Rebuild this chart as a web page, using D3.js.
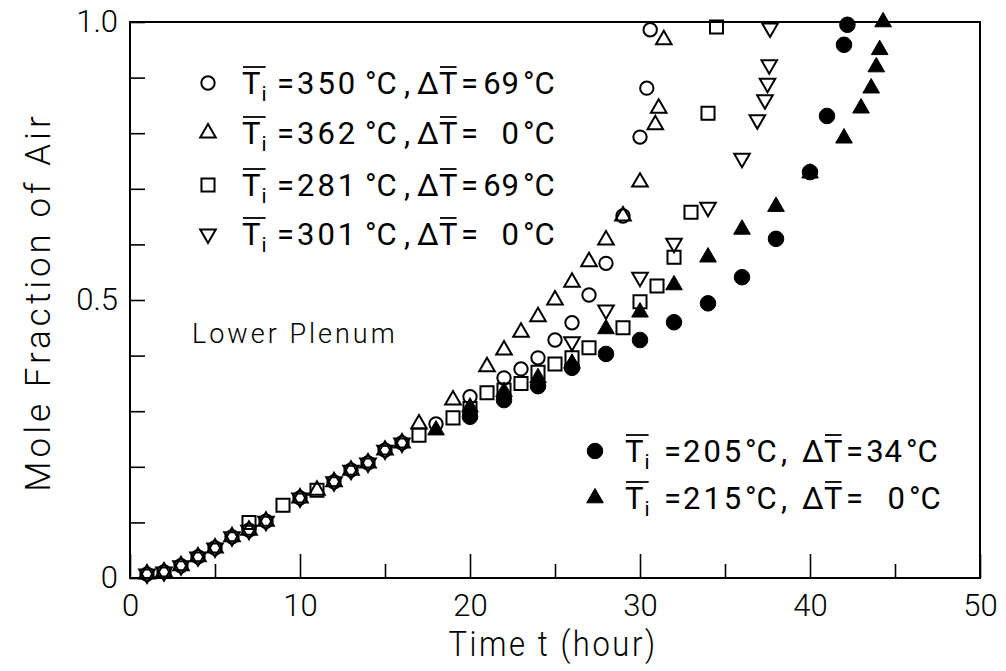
<!DOCTYPE html>
<html>
<head>
<meta charset="utf-8">
<script src="https://cdn.jsdelivr.net/npm/d3@7"></script>
<style>
  html, body { margin: 0; padding: 0; background: #fff; }
  svg { display: block; }
</style>
</head>
<body>
<script>
// ---- Data: mole fraction of air in the lower plenum vs. time (hours) ----
// Open circles: Ti = 350 °C, ΔT = 69 °C
const circleTime = [1,2,3,4,5,6,7,8,10,12,13,14,15,16,18,20,22,23,24,25,26,27,28,29,30,30.4,30.6];
const circleFrac = [0.007,0.011,0.022,0.038,0.054,0.074,0.086,0.102,0.144,0.173,0.194,0.207,0.23,0.243,0.277,0.326,0.36,0.376,0.396,0.428,0.459,0.509,0.566,0.651,0.793,0.881,0.986];

// Open up-triangles: Ti = 362 °C, ΔT = 0 °C
const triUpTime = [1,2,3,4,5,6,7,8,10,11,12,13,14,15,16,17,19,21,22,23,24,25,26,27,28,29,30,30.9,31.1,31.4];
const triUpFrac = [0.007,0.011,0.022,0.038,0.054,0.074,0.086,0.102,0.144,0.158,0.173,0.194,0.207,0.23,0.243,0.277,0.32,0.38,0.41,0.442,0.47,0.5,0.532,0.569,0.608,0.651,0.712,0.815,0.845,0.968];

// Open squares: Ti = 281 °C, ΔT = 69 °C
const squareTime = [7,9,11,17,19,20,21,22,23,24,25,26,27,29,30,31,32,33,34,34.5];
const squareFrac = [0.1,0.131,0.158,0.257,0.288,0.305,0.333,0.338,0.35,0.37,0.385,0.396,0.414,0.45,0.497,0.525,0.577,0.658,0.836,0.991];

// Open down-triangles: Ti = 301 °C, ΔT = 0 °C
const triDownTime = [1,2,3,4,5,6,7,8,10,12,13,14,15,16,26,28,30,32,34,36,36.9,37.35,37.5,37.6,37.65];
const triDownFrac = [0.007,0.011,0.022,0.038,0.054,0.074,0.086,0.102,0.144,0.173,0.194,0.207,0.23,0.243,0.425,0.482,0.541,0.602,0.667,0.755,0.824,0.86,0.89,0.923,0.989];

// Filled circles: Ti = 205 °C, ΔT = 34 °C
const dotTime = [20,22,24,26,28,30,32,34,36,38,40,41,42,42.2];
const dotFrac = [0.29,0.32,0.345,0.378,0.403,0.428,0.46,0.494,0.541,0.61,0.73,0.831,0.959,0.995];

// Filled up-triangles: Ti = 215 °C, ΔT = 0 °C
const solidTriTime = [18,20,22,24,26,28,30,32,34,36,38,40,42,43,43.6,43.9,44.1,44.3];
const solidTriFrac = [0.266,0.307,0.335,0.36,0.386,0.448,0.478,0.527,0.577,0.627,0.668,0.728,0.791,0.845,0.881,0.919,0.95,1.0];

// Axis ticks and labels
const xMajorTicks = [0,10,20,30,40,50];
const xMinorTicks = [5,15,25,35,45];
const yTicks = [0,0.1,0.2,0.3,0.4,0.5,0.6,0.7,0.8,0.9,1.0];
const yTickLabels = {"0":"0","0.5":"0.5","1":"1.0"};

// Legend entries
const legendTi = ["350","362","281","301"];
const legendDT = ["69","0","69","0"];
const legendLowTi = ["205","215"];
const legendLowDT = ["34","0"];

// ---- Layout ----
const W = 1006, H = 671;
const FONT = "Roboto, 'Liberation Sans', Arial, sans-serif";
const INK = "#000";

const x = d3.scaleLinear().domain([0, 50]).range([130, 980]);
const y = d3.scaleLinear().domain([0, 1]).range([578, 22]);

const svg = d3.select("body").append("svg").attr("width", W).attr("height", H);

// Frame
svg.append("rect")
  .attr("x", x(0)).attr("y", y(1))
  .attr("width", x(50) - x(0)).attr("height", y(0) - y(1))
  .attr("fill", "none").attr("stroke", INK).attr("stroke-width", 2);

function styleAxis(g) {
  g.select(".domain").remove();
  g.selectAll("line").attr("stroke", INK).attr("stroke-width", 1.6);
  g.selectAll("text")
    .attr("fill", INK)
    .attr("font-family", FONT)
    .attr("font-weight", 300)
    .attr("font-size", 31);
}

// X axis: long ticks at every 10 h, short ticks between
svg.append("g")
  .attr("transform", `translate(0,${y(0)})`)
  .call(d3.axisBottom(x).tickValues(xMajorTicks).tickSize(-24).tickPadding(16).tickFormat(d3.format("d")))
  .call(styleAxis);
svg.append("g")
  .attr("transform", `translate(0,${y(0)})`)
  .call(d3.axisBottom(x).tickValues(xMinorTicks).tickSize(-14).tickFormat(""))
  .call(styleAxis);

// Y axis
svg.append("g")
  .attr("transform", `translate(${x(0)},0)`)
  .call(d3.axisLeft(y).tickValues(yTicks).tickSize(-15).tickPadding(12)
    .tickFormat(d => yTickLabels[String(+d.toFixed(1))] || ""))
  .call(styleAxis);

// Axis titles
svg.append("text")
  .attr("transform", "translate(553,656) scale(0.86,1)")
  .attr("text-anchor", "middle")
  .attr("font-family", FONT).attr("font-weight", 300).attr("font-size", 36)
  .attr("letter-spacing", 3).attr("fill", INK)
  .text("Time t (hour)");

svg.append("text")
  .attr("transform", "translate(50,302) rotate(-90)")
  .attr("text-anchor", "middle")
  .attr("font-family", FONT).attr("font-weight", 300).attr("font-size", 35)
  .attr("letter-spacing", 4).attr("fill", INK)
  .text("Mole Fraction of Air");

svg.append("text")
  .attr("x", 192).attr("y", 343)
  .attr("font-family", FONT).attr("font-weight", 300).attr("font-size", 27)
  .attr("letter-spacing", 3).attr("fill", INK)
  .text("Lower Plenum");

// ---- Markers ----
const sym = {
  circle:   d3.symbol().type(d3.symbolCircle).size(140),
  triUp:    d3.symbol().type(d3.symbolTriangle).size(105),
  triDown:  d3.symbol().type(d3.symbolTriangle).size(105),
  square:   d3.symbol().type(d3.symbolSquare).size(170),
  dot:      d3.symbol().type(d3.symbolCircle).size(190),
  solidTri: d3.symbol().type(d3.symbolTriangle).size(120)
};
const rot = { triDown: 180 };
const filled = { dot: true, solidTri: true };

function zip(ts, vs) { return ts.map((t, i) => ({ t, v: vs[i] })); }

const seriesList = [
  { key: "square",   data: zip(squareTime, squareFrac) },
  { key: "circle",   data: zip(circleTime, circleFrac) },
  { key: "triUp",    data: zip(triUpTime, triUpFrac) },
  { key: "triDown",  data: zip(triDownTime, triDownFrac) },
  { key: "solidTri", data: zip(solidTriTime, solidTriFrac) },
  { key: "dot",      data: zip(dotTime, dotFrac) }
];

function drawMarker(sel, key) {
  sel.attr("d", sym[key]())
    .attr("fill", filled[key] ? INK : "none")
    .attr("stroke", INK)
    .attr("stroke-width", filled[key] ? 1 : 2)
    .attr("stroke-linejoin", "miter");
}

seriesList.forEach(s => {
  svg.append("g").selectAll("path")
    .data(s.data)
    .join("path")
    .attr("transform", d => `translate(${x(d.t)},${y(d.v)}) rotate(${rot[s.key] || 0})`)
    .call(drawMarker, s.key);
});

// ---- Legends ----
function piece(xp, yb, str, opts = {}) {
  return svg.append("text")
    .attr("x", xp).attr("y", yb)
    .attr("font-family", FONT).attr("font-weight", 400)
    .attr("font-size", opts.size || 31)
    .attr("letter-spacing", opts.spacing || 0)
    .attr("text-anchor", opts.anchor || "start")
    .attr("fill", INK)
    .text(str);
}
function overbar(nodes, yb) {
  const boxes = nodes.map(n => n.node().getBBox());
  const x0 = d3.min(boxes, b => b.x) + 1;
  const x1 = d3.max(boxes, b => b.x + b.width) - 1;
  svg.append("line")
    .attr("x1", x0).attr("x2", x1)
    .attr("y1", yb).attr("y2", yb)
    .attr("stroke", INK).attr("stroke-width", 1.8);
}

function legendRow(cfg) {
  const b = cfg.base;
  svg.append("path")
    .attr("transform", `translate(${cfg.symX},${b - 11}) rotate(${rot[cfg.key] || 0})`)
    .call(drawMarker, cfg.key);
  const T1 = piece(cfg.tX, b, "T");
  const T1b = T1.node().getBBox();
  const sub = piece(T1b.x + T1b.width + 1, b + 7, "i", { size: 21 });
  overbar([T1, sub], b - 27);
  piece(cfg.eqX, b, "=");
  piece(cfg.valX, b, cfg.ti, { spacing: 3 });
  piece(cfg.degX, b, "°C");
  piece(cfg.commaX, b, ",");
  const D = piece(cfg.deltaX, b, "Δ");
  const Db = D.node().getBBox();
  const T2 = piece(Db.x + Db.width, b, "T");
  overbar([T2], b - 27);
  const T2b = T2.node().getBBox();
  piece(Math.max(cfg.eq2X, T2b.x + T2b.width + 3), b, "=");
  piece(cfg.dtEnd, b, cfg.dt, { anchor: "end", spacing: 1 });
  piece(cfg.dtEnd + 3, b, "°C");
}

const upperKeys = ["circle", "triUp", "square", "triDown"];
const upperBase = [94, 144, 196, 245];
upperKeys.forEach((k, i) => legendRow({
  key: k, base: upperBase[i], symX: 208,
  tX: 242, eqX: 277, valX: 297, ti: legendTi[i], degX: 365,
  commaX: 404, deltaX: 417, eq2X: 461, dt: legendDT[i], dtEnd: 520
}));

const lowerKeys = ["dot", "solidTri"];
const lowerBase = [462, 509];
lowerKeys.forEach((k, i) => legendRow({
  key: k, base: lowerBase[i], symX: 595,
  tX: 625, eqX: 664, valX: 683, ti: legendLowTi[i], degX: 745,
  commaX: 781, deltaX: 802, eq2X: 846, dt: legendLowDT[i], dtEnd: i === 0 ? 903 : 906
}));
</script>
</body>
</html>
